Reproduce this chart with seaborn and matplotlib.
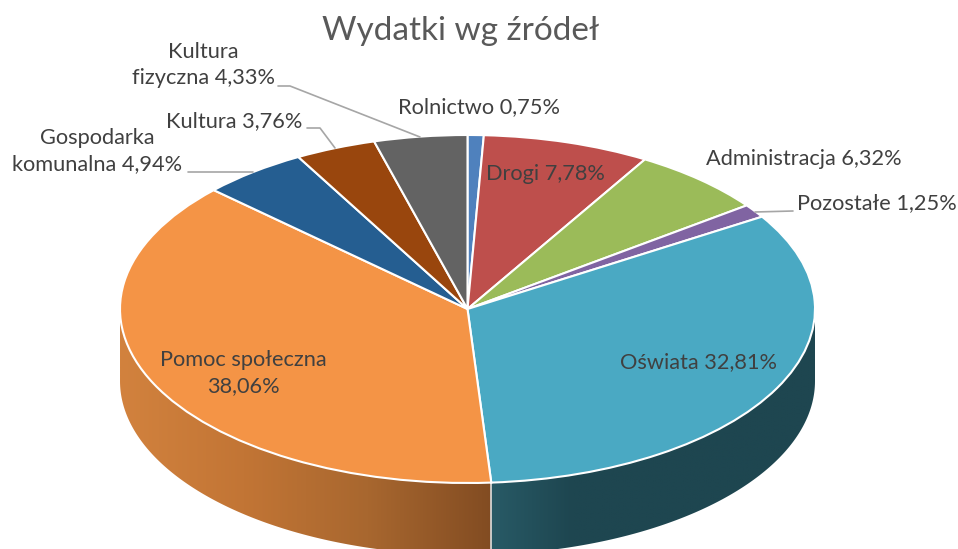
# wydatki wg zrodel - pie chart with a fake 3D rim

import numpy as np
import matplotlib
matplotlib.use("Agg")
import matplotlib.pyplot as plt
from matplotlib.patches import Polygon
import seaborn as sns

# ---- data ----
categories = ["Rolnictwo", "Drogi", "Administracja", "Pozostałe", "Oświata",
              "Pomoc społeczna", "Gospodarka komunalna", "Kultura", "Kultura fizyczna"]
values = [0.75, 7.78, 6.32, 1.25, 32.81, 38.06, 4.94, 3.76, 4.33]
colors = ["#4F81BD", "#BE4F4C", "#9BBB59", "#8064A2", "#4AA9C3",
          "#F49446", "#255E91", "#99460D", "#636363"]

# rim shading from the front seam outwards, only these two slices reach the front
rim_colors = {
    "Oświata": ["#285A66", "#1E4650", "#1E4650", "#1E4650", "#1E4650"],
    "Pomoc społeczna": ["#824C22", "#A8672F", "#C27535", "#D2823E"],
}

W, H = 958, 549
CX, CY = 467.5, 309
RX, RY = 347.5, 174
DEPTH = 72 / RY

sns.set_theme(style="white")
plt.rcParams["font.family"] = ["Lato", "DejaVu Sans"]

fig = plt.figure(figsize=(W / 100, H / 100), dpi=100)
ax = fig.add_axes([0, 0, 1, 1])

# ---- top of the pie ----
ax.pie(values, colors=colors, startangle=90, counterclock=False, radius=1,
       wedgeprops={"edgecolor": "white", "linewidth": 1.5, "zorder": 3})

# ---- rim ----
ends = 90 - np.cumsum(values) * 3.6
starts = np.r_[90, ends[:-1]]

for name, a, b in zip(categories, starts, ends):
    if name not in rim_colors:
        continue
    angles = np.radians(np.linspace(a, b, 400))
    angles = angles[np.sin(angles) <= 0]
    xs = np.cos(angles)
    ys = np.sin(angles)

    # the end of the arc closest to the middle is the seam
    near, far = sorted([xs[0], xs[-1]], key=abs)
    shades = np.array(sns.blend_palette(rim_colors[name], n_colors=256))[:, :3]
    img = ax.imshow(shades[np.newaxis, :, :], aspect="auto", zorder=1,
                    extent=[near, far, -1 - DEPTH, 0], interpolation="bilinear")

    outline = np.r_[np.c_[xs, ys], np.c_[xs, ys - DEPTH][::-1]]
    clip = Polygon(outline, closed=True, transform=ax.transData, fc="none", ec="none")
    ax.add_patch(clip)
    img.set_clip_path(clip)

    # light seam where two slices meet at the front
    if name == "Oświata":
        seam = np.radians(b)
        ax.plot([np.cos(seam)] * 2, [np.sin(seam), np.sin(seam) - DEPTH],
                color="#D9D9D9", lw=1.2, zorder=2)

# stretch the circle into the ellipse
ax.set_aspect("auto")
ax.set_xlim(-CX / RX, (W - CX) / RX)
ax.set_ylim(-(H - CY) / RY, CY / RY)
ax.axis("off")


# ---- texts ----
def fx(x):
    return x / W


def fy(y):
    return 1 - y / H


TEXT = "#404040"
fig.text(fx(461), fy(31), "Wydatki wg źródeł", fontsize=24, color="#595959",
         ha="center", va="center")

labels = [
    (479, 107, "Rolnictwo 0,75%"),
    (545, 174, "Drogi 7,78%"),
    (804, 159, "Administracja 6,32%"),
    (877, 203, "Pozostałe 1,25%"),
    (698, 362, "Oświata 32,81%"),
    (243, 373, "Pomoc społeczna\n38,06%"),
    (97, 151, "Gospodarka\nkomunalna 4,94%"),
    (234, 121, "Kultura 3,76%"),
    (203, 65, "Kultura\nfizyczna 4,33%"),
]
for x, y, txt in labels:
    fig.text(fx(x), fy(y), txt, fontsize=15.7, color=TEXT, ha="center", va="center",
             multialignment="center", linespacing=1.4)

# leader lines
leaders = [
    ([278, 290, 420], [86, 86, 137]),
    ([307, 320, 335], [128, 128, 148]),
    ([188, 253], [172, 172]),
    ([793, 755], [211, 212]),
]
for lx, ly in leaders:
    fig.add_artist(plt.Line2D([fx(v) for v in lx], [fy(v) for v in ly],
                              color="#A6A6A6", lw=1.2))

fig.savefig("out.png", dpi=100, facecolor="white")
